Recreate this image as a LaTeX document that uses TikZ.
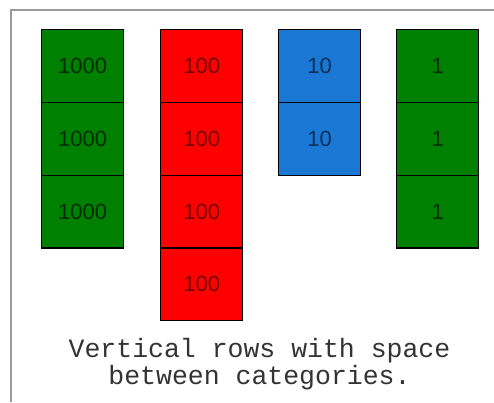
\documentclass[tikz,border=0pt]{standalone}
\usepackage{fontspec}
\setmainfont{Liberation Sans}
\newfontfamily\capfont{Liberation Mono}
\definecolor{tgreen}{HTML}{008000}
\definecolor{tred}{HTML}{FF0000}
\definecolor{tblue}{HTML}{1A78D4}
\definecolor{framegray}{HTML}{9A9A9A}
\tikzset{
  tile/.style={draw=black, line width=1.4pt, minimum width=82pt, minimum height=72.75pt,
    inner sep=0pt, anchor=north west, font=\fontsize{22}{22}\selectfont},
  thousand/.style={tile, fill=tgreen, text=tgreen!35!black},
  hundred/.style={tile, fill=tred, text=tred!45!black},
  ten/.style={tile, fill=tblue, text=tblue!40!black},
  one/.style={tile, fill=tgreen, text=tgreen!35!black},
  caption/.style={font=\capfont\fontsize{26.5}{27}\selectfont, text=black!80,
    align=center, inner sep=0pt}
}
\begin{document}
\begin{tikzpicture}[x=1pt, y=-1pt]
  \useasboundingbox (0,0) rectangle (494,402);
  % outer frame, open to the right and bottom
  \draw[framegray, line width=2pt] (11,402) -- (11,10) -- (494,10);

  % thousands
  \foreach \i in {0,1,2}
    \node[thousand] (th\i) at (41, 29+72.75*\i) {1000};
  % hundreds
  \foreach \i in {0,1,2,3}
    \node[hundred] (hu\i) at (160, 29+72.75*\i) {100};
  % tens
  \foreach \i in {0,1}
    \node[ten] (te\i) at (278, 29+72.75*\i) {10};
  % ones
  \foreach \i in {0,1,2}
    \node[one] (on\i) at (396, 29+72.75*\i) {1};

  \node[caption] (cap) at (259.5, 364) {Vertical rows with space\\between categories.};
\end{tikzpicture}
\end{document}
